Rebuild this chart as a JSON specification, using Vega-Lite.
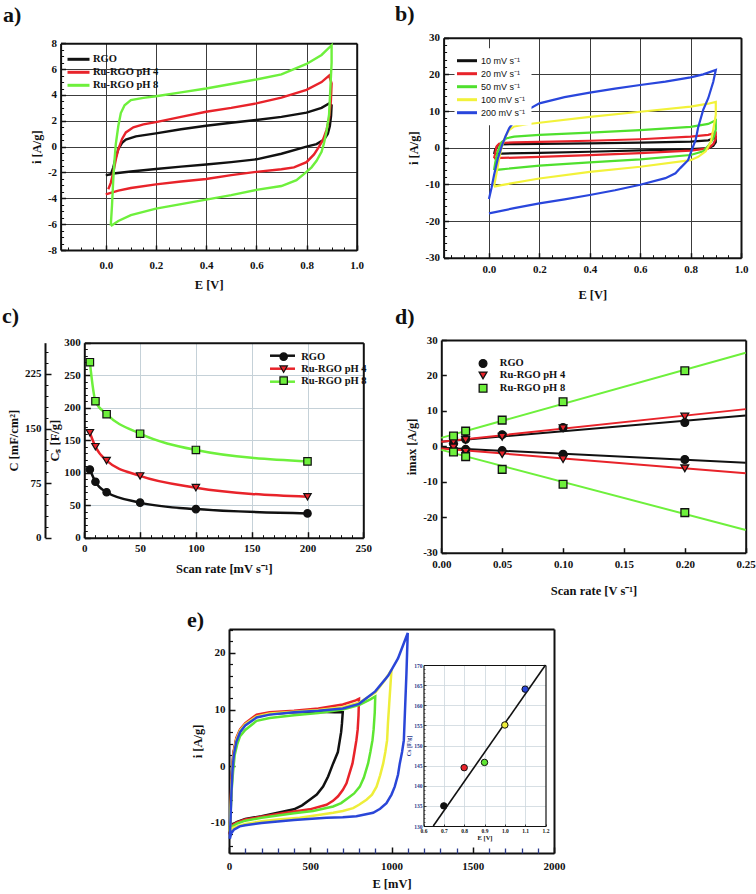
{
"$schema":"https://vega.github.io/schema/vega-lite/v6.json",
"width":756,"height":894,"autosize":{"type":"none"},"padding":0,"background":"white",
"config":{
 "view":{"stroke":null},
 "axis":{"labelFont":"Liberation Serif","labelFontWeight":"bold","labelFontSize":11,"labelColor":"#111","titleFont":"Liberation Serif","titleFontWeight":"bold","titleFontSize":12.5,"titleColor":"#111","domainColor":"#111","domainWidth":2,"tickColor":"#111","tickWidth":1.5,"labelFlush":false,"labelOverlap":false,"grid":false,"zindex":0},
 "legend":{"labelFont":"Liberation Serif","labelFontWeight":"bold","labelFontSize":10.5,"labelColor":"#111","orient":"none","padding":0}
},
"datasets":{
 "a":[
  {"s":"RGO","k":0,"E":0,"i":-2.2},{"s":"RGO","k":1,"E":0.02,"i":-2.15},{"s":"RGO","k":2,"E":0.03,"i":-1.6},{"s":"RGO","k":3,"E":0.04,"i":-0.8},{"s":"RGO","k":4,"E":0.05,"i":-0.2},{"s":"RGO","k":5,"E":0.065,"i":0.3},{"s":"RGO","k":6,"E":0.08,"i":0.55},{"s":"RGO","k":7,"E":0.12,"i":0.8},{"s":"RGO","k":8,"E":0.2,"i":1.03},{"s":"RGO","k":9,"E":0.3,"i":1.35},{"s":"RGO","k":10,"E":0.4,"i":1.62},{"s":"RGO","k":11,"E":0.5,"i":1.85},{"s":"RGO","k":12,"E":0.6,"i":2.06},{"s":"RGO","k":13,"E":0.7,"i":2.3},{"s":"RGO","k":14,"E":0.8,"i":2.63},{"s":"RGO","k":15,"E":0.86,"i":3.0},{"s":"RGO","k":16,"E":0.89,"i":3.35},{"s":"RGO","k":17,"E":0.9,"i":3.2},{"s":"RGO","k":18,"E":0.898,"i":2.4},{"s":"RGO","k":19,"E":0.893,"i":1.6},{"s":"RGO","k":20,"E":0.885,"i":1.0},{"s":"RGO","k":21,"E":0.87,"i":0.55},{"s":"RGO","k":22,"E":0.84,"i":0.2},{"s":"RGO","k":23,"E":0.8,"i":0.0},{"s":"RGO","k":24,"E":0.7,"i":-0.55},{"s":"RGO","k":25,"E":0.6,"i":-0.98},{"s":"RGO","k":26,"E":0.5,"i":-1.2},{"s":"RGO","k":27,"E":0.4,"i":-1.38},{"s":"RGO","k":28,"E":0.3,"i":-1.55},{"s":"RGO","k":29,"E":0.2,"i":-1.73},{"s":"RGO","k":30,"E":0.1,"i":-1.92},{"s":"RGO","k":31,"E":0.03,"i":-2.08},{"s":"RGO","k":32,"E":0.005,"i":-2.2},
  {"s":"Ru-RGO pH 4","k":0,"E":0.01,"i":-3.3},{"s":"Ru-RGO pH 4","k":1,"E":0.02,"i":-2.8},{"s":"Ru-RGO pH 4","k":2,"E":0.03,"i":-2.0},{"s":"Ru-RGO pH 4","k":3,"E":0.04,"i":-1.0},{"s":"Ru-RGO pH 4","k":4,"E":0.05,"i":-0.2},{"s":"Ru-RGO pH 4","k":5,"E":0.065,"i":0.6},{"s":"Ru-RGO pH 4","k":6,"E":0.08,"i":1.1},{"s":"Ru-RGO pH 4","k":7,"E":0.11,"i":1.5},{"s":"Ru-RGO pH 4","k":8,"E":0.15,"i":1.72},{"s":"Ru-RGO pH 4","k":9,"E":0.2,"i":1.9},{"s":"Ru-RGO pH 4","k":10,"E":0.3,"i":2.3},{"s":"Ru-RGO pH 4","k":11,"E":0.4,"i":2.7},{"s":"Ru-RGO pH 4","k":12,"E":0.5,"i":3.0},{"s":"Ru-RGO pH 4","k":13,"E":0.6,"i":3.35},{"s":"Ru-RGO pH 4","k":14,"E":0.7,"i":3.8},{"s":"Ru-RGO pH 4","k":15,"E":0.8,"i":4.4},{"s":"Ru-RGO pH 4","k":16,"E":0.86,"i":5.0},{"s":"Ru-RGO pH 4","k":17,"E":0.89,"i":5.5},{"s":"Ru-RGO pH 4","k":18,"E":0.9,"i":4.9},{"s":"Ru-RGO pH 4","k":19,"E":0.897,"i":3.5},{"s":"Ru-RGO pH 4","k":20,"E":0.89,"i":2.2},{"s":"Ru-RGO pH 4","k":21,"E":0.88,"i":1.3},{"s":"Ru-RGO pH 4","k":22,"E":0.865,"i":0.5},{"s":"Ru-RGO pH 4","k":23,"E":0.85,"i":0.0},{"s":"Ru-RGO pH 4","k":24,"E":0.83,"i":-0.6},{"s":"Ru-RGO pH 4","k":25,"E":0.8,"i":-1.2},{"s":"Ru-RGO pH 4","k":26,"E":0.75,"i":-1.6},{"s":"Ru-RGO pH 4","k":27,"E":0.7,"i":-1.75},{"s":"Ru-RGO pH 4","k":28,"E":0.6,"i":-1.95},{"s":"Ru-RGO pH 4","k":29,"E":0.5,"i":-2.2},{"s":"Ru-RGO pH 4","k":30,"E":0.4,"i":-2.5},{"s":"Ru-RGO pH 4","k":31,"E":0.3,"i":-2.7},{"s":"Ru-RGO pH 4","k":32,"E":0.2,"i":-2.92},{"s":"Ru-RGO pH 4","k":33,"E":0.1,"i":-3.2},{"s":"Ru-RGO pH 4","k":34,"E":0.05,"i":-3.4},{"s":"Ru-RGO pH 4","k":35,"E":0.0,"i":-3.7},
  {"s":"Ru-RGO pH 8","k":0,"E":0.02,"i":-6.1},{"s":"Ru-RGO pH 8","k":1,"E":0.025,"i":-4.5},{"s":"Ru-RGO pH 8","k":2,"E":0.03,"i":-2.5},{"s":"Ru-RGO pH 8","k":3,"E":0.035,"i":-1.0},{"s":"Ru-RGO pH 8","k":4,"E":0.04,"i":0.2},{"s":"Ru-RGO pH 8","k":5,"E":0.05,"i":1.6},{"s":"Ru-RGO pH 8","k":6,"E":0.06,"i":2.6},{"s":"Ru-RGO pH 8","k":7,"E":0.075,"i":3.2},{"s":"Ru-RGO pH 8","k":8,"E":0.1,"i":3.6},{"s":"Ru-RGO pH 8","k":9,"E":0.15,"i":3.78},{"s":"Ru-RGO pH 8","k":10,"E":0.2,"i":3.9},{"s":"Ru-RGO pH 8","k":11,"E":0.3,"i":4.2},{"s":"Ru-RGO pH 8","k":12,"E":0.4,"i":4.5},{"s":"Ru-RGO pH 8","k":13,"E":0.5,"i":4.85},{"s":"Ru-RGO pH 8","k":14,"E":0.6,"i":5.2},{"s":"Ru-RGO pH 8","k":15,"E":0.7,"i":5.6},{"s":"Ru-RGO pH 8","k":16,"E":0.8,"i":6.4},{"s":"Ru-RGO pH 8","k":17,"E":0.86,"i":7.1},{"s":"Ru-RGO pH 8","k":18,"E":0.9,"i":7.85},{"s":"Ru-RGO pH 8","k":19,"E":0.9,"i":6.5},{"s":"Ru-RGO pH 8","k":20,"E":0.895,"i":4.5},{"s":"Ru-RGO pH 8","k":21,"E":0.89,"i":2.5},{"s":"Ru-RGO pH 8","k":22,"E":0.88,"i":1.2},{"s":"Ru-RGO pH 8","k":23,"E":0.87,"i":0.3},{"s":"Ru-RGO pH 8","k":24,"E":0.86,"i":-0.4},{"s":"Ru-RGO pH 8","k":25,"E":0.84,"i":-1.1},{"s":"Ru-RGO pH 8","k":26,"E":0.82,"i":-1.6},{"s":"Ru-RGO pH 8","k":27,"E":0.8,"i":-1.95},{"s":"Ru-RGO pH 8","k":28,"E":0.76,"i":-2.6},{"s":"Ru-RGO pH 8","k":29,"E":0.7,"i":-3.05},{"s":"Ru-RGO pH 8","k":30,"E":0.6,"i":-3.35},{"s":"Ru-RGO pH 8","k":31,"E":0.5,"i":-3.75},{"s":"Ru-RGO pH 8","k":32,"E":0.4,"i":-4.1},{"s":"Ru-RGO pH 8","k":33,"E":0.3,"i":-4.45},{"s":"Ru-RGO pH 8","k":34,"E":0.2,"i":-4.8},{"s":"Ru-RGO pH 8","k":35,"E":0.1,"i":-5.3},{"s":"Ru-RGO pH 8","k":36,"E":0.05,"i":-5.75},{"s":"Ru-RGO pH 8","k":37,"E":0.02,"i":-6.15}
 ],
 "b":[
  {"s":"10 mV s⁻¹","k":0,"E":0.02,"i":-1.7},{"s":"10 mV s⁻¹","k":1,"E":0.025,"i":-0.5},{"s":"10 mV s⁻¹","k":2,"E":0.035,"i":0.6},{"s":"10 mV s⁻¹","k":3,"E":0.05,"i":0.9},{"s":"10 mV s⁻¹","k":4,"E":0.1,"i":1.0},{"s":"10 mV s⁻¹","k":5,"E":0.2,"i":1.05},{"s":"10 mV s⁻¹","k":6,"E":0.4,"i":1.2},{"s":"10 mV s⁻¹","k":7,"E":0.6,"i":1.4},{"s":"10 mV s⁻¹","k":8,"E":0.8,"i":1.65},{"s":"10 mV s⁻¹","k":9,"E":0.87,"i":2.0},{"s":"10 mV s⁻¹","k":10,"E":0.9,"i":2.8},{"s":"10 mV s⁻¹","k":11,"E":0.9,"i":1.5},{"s":"10 mV s⁻¹","k":12,"E":0.89,"i":0.5},{"s":"10 mV s⁻¹","k":13,"E":0.87,"i":-0.1},{"s":"10 mV s⁻¹","k":14,"E":0.8,"i":-0.4},{"s":"10 mV s⁻¹","k":15,"E":0.6,"i":-0.75},{"s":"10 mV s⁻¹","k":16,"E":0.4,"i":-1.1},{"s":"10 mV s⁻¹","k":17,"E":0.2,"i":-1.4},{"s":"10 mV s⁻¹","k":18,"E":0.05,"i":-1.6},{"s":"10 mV s⁻¹","k":19,"E":0.02,"i":-1.7},
  {"s":"20 mV s⁻¹","k":0,"E":0.02,"i":-2.9},{"s":"20 mV s⁻¹","k":1,"E":0.025,"i":-1.5},{"s":"20 mV s⁻¹","k":2,"E":0.03,"i":0.3},{"s":"20 mV s⁻¹","k":3,"E":0.04,"i":1.1},{"s":"20 mV s⁻¹","k":4,"E":0.06,"i":1.35},{"s":"20 mV s⁻¹","k":5,"E":0.1,"i":1.45},{"s":"20 mV s⁻¹","k":6,"E":0.2,"i":1.6},{"s":"20 mV s⁻¹","k":7,"E":0.4,"i":1.9},{"s":"20 mV s⁻¹","k":8,"E":0.6,"i":2.3},{"s":"20 mV s⁻¹","k":9,"E":0.8,"i":3.0},{"s":"20 mV s⁻¹","k":10,"E":0.87,"i":3.5},{"s":"20 mV s⁻¹","k":11,"E":0.9,"i":4.1},{"s":"20 mV s⁻¹","k":12,"E":0.9,"i":2.5},{"s":"20 mV s⁻¹","k":13,"E":0.89,"i":1.0},{"s":"20 mV s⁻¹","k":14,"E":0.87,"i":-0.2},{"s":"20 mV s⁻¹","k":15,"E":0.8,"i":-0.8},{"s":"20 mV s⁻¹","k":16,"E":0.6,"i":-1.5},{"s":"20 mV s⁻¹","k":17,"E":0.4,"i":-2.0},{"s":"20 mV s⁻¹","k":18,"E":0.2,"i":-2.5},{"s":"20 mV s⁻¹","k":19,"E":0.05,"i":-2.8},{"s":"20 mV s⁻¹","k":20,"E":0.02,"i":-2.9},
  {"s":"50 mV s⁻¹","k":0,"E":0.02,"i":-6.1},{"s":"50 mV s⁻¹","k":1,"E":0.025,"i":-4.0},{"s":"50 mV s⁻¹","k":2,"E":0.035,"i":-1.0},{"s":"50 mV s⁻¹","k":3,"E":0.05,"i":1.5},{"s":"50 mV s⁻¹","k":4,"E":0.07,"i":2.6},{"s":"50 mV s⁻¹","k":5,"E":0.1,"i":3.0},{"s":"50 mV s⁻¹","k":6,"E":0.2,"i":3.5},{"s":"50 mV s⁻¹","k":7,"E":0.4,"i":4.1},{"s":"50 mV s⁻¹","k":8,"E":0.6,"i":4.8},{"s":"50 mV s⁻¹","k":9,"E":0.8,"i":5.7},{"s":"50 mV s⁻¹","k":10,"E":0.87,"i":6.5},{"s":"50 mV s⁻¹","k":11,"E":0.9,"i":7.5},{"s":"50 mV s⁻¹","k":12,"E":0.9,"i":5.0},{"s":"50 mV s⁻¹","k":13,"E":0.89,"i":2.5},{"s":"50 mV s⁻¹","k":14,"E":0.87,"i":0.5},{"s":"50 mV s⁻¹","k":15,"E":0.85,"i":-1.0},{"s":"50 mV s⁻¹","k":16,"E":0.8,"i":-2.0},{"s":"50 mV s⁻¹","k":17,"E":0.6,"i":-3.2},{"s":"50 mV s⁻¹","k":18,"E":0.4,"i":-4.0},{"s":"50 mV s⁻¹","k":19,"E":0.2,"i":-4.9},{"s":"50 mV s⁻¹","k":20,"E":0.05,"i":-5.9},{"s":"50 mV s⁻¹","k":21,"E":0.02,"i":-6.1},
  {"s":"100 mV s⁻¹","k":0,"E":0.02,"i":-10.6},{"s":"100 mV s⁻¹","k":1,"E":0.03,"i":-7},{"s":"100 mV s⁻¹","k":2,"E":0.04,"i":-3},{"s":"100 mV s⁻¹","k":3,"E":0.05,"i":0.0},{"s":"100 mV s⁻¹","k":4,"E":0.065,"i":3.0},{"s":"100 mV s⁻¹","k":5,"E":0.08,"i":4.8},{"s":"100 mV s⁻¹","k":6,"E":0.1,"i":5.8},{"s":"100 mV s⁻¹","k":7,"E":0.15,"i":6.4},{"s":"100 mV s⁻¹","k":8,"E":0.2,"i":6.8},{"s":"100 mV s⁻¹","k":9,"E":0.4,"i":8.4},{"s":"100 mV s⁻¹","k":10,"E":0.6,"i":9.8},{"s":"100 mV s⁻¹","k":11,"E":0.8,"i":11.2},{"s":"100 mV s⁻¹","k":12,"E":0.87,"i":12.0},{"s":"100 mV s⁻¹","k":13,"E":0.9,"i":12.5},{"s":"100 mV s⁻¹","k":14,"E":0.9,"i":9.0},{"s":"100 mV s⁻¹","k":15,"E":0.89,"i":5.0},{"s":"100 mV s⁻¹","k":16,"E":0.88,"i":1.5},{"s":"100 mV s⁻¹","k":17,"E":0.86,"i":-1.0},{"s":"100 mV s⁻¹","k":18,"E":0.83,"i":-2.5},{"s":"100 mV s⁻¹","k":19,"E":0.8,"i":-3.4},{"s":"100 mV s⁻¹","k":20,"E":0.6,"i":-5.2},{"s":"100 mV s⁻¹","k":21,"E":0.4,"i":-6.6},{"s":"100 mV s⁻¹","k":22,"E":0.2,"i":-8.4},{"s":"100 mV s⁻¹","k":23,"E":0.05,"i":-10.2},{"s":"100 mV s⁻¹","k":24,"E":0.02,"i":-10.6},
  {"s":"200 mV s⁻¹","k":0,"E":0.0,"i":-14},{"s":"200 mV s⁻¹","k":1,"E":0.01,"i":-11},{"s":"200 mV s⁻¹","k":2,"E":0.02,"i":-7.5},{"s":"200 mV s⁻¹","k":3,"E":0.035,"i":-3},{"s":"200 mV s⁻¹","k":4,"E":0.05,"i":0.3},{"s":"200 mV s⁻¹","k":5,"E":0.065,"i":3},{"s":"200 mV s⁻¹","k":6,"E":0.08,"i":5.3},{"s":"200 mV s⁻¹","k":7,"E":0.1,"i":7.2},{"s":"200 mV s⁻¹","k":8,"E":0.12,"i":8.5},{"s":"200 mV s⁻¹","k":9,"E":0.15,"i":10.2},{"s":"200 mV s⁻¹","k":10,"E":0.2,"i":12.1},{"s":"200 mV s⁻¹","k":11,"E":0.3,"i":13.8},{"s":"200 mV s⁻¹","k":12,"E":0.4,"i":15.0},{"s":"200 mV s⁻¹","k":13,"E":0.5,"i":16.1},{"s":"200 mV s⁻¹","k":14,"E":0.6,"i":17.1},{"s":"200 mV s⁻¹","k":15,"E":0.7,"i":18.0},{"s":"200 mV s⁻¹","k":16,"E":0.8,"i":19.2},{"s":"200 mV s⁻¹","k":17,"E":0.85,"i":20.0},{"s":"200 mV s⁻¹","k":18,"E":0.9,"i":21.2},{"s":"200 mV s⁻¹","k":19,"E":0.89,"i":18},{"s":"200 mV s⁻¹","k":20,"E":0.87,"i":13.5},{"s":"200 mV s⁻¹","k":21,"E":0.85,"i":10.3},{"s":"200 mV s⁻¹","k":22,"E":0.83,"i":5.5},{"s":"200 mV s⁻¹","k":23,"E":0.82,"i":2.1},{"s":"200 mV s⁻¹","k":24,"E":0.8,"i":-1.5},{"s":"200 mV s⁻¹","k":25,"E":0.79,"i":-3.4},{"s":"200 mV s⁻¹","k":26,"E":0.76,"i":-5.5},{"s":"200 mV s⁻¹","k":27,"E":0.74,"i":-7},{"s":"200 mV s⁻¹","k":28,"E":0.7,"i":-8.3},{"s":"200 mV s⁻¹","k":29,"E":0.6,"i":-10.1},{"s":"200 mV s⁻¹","k":30,"E":0.5,"i":-11.6},{"s":"200 mV s⁻¹","k":31,"E":0.4,"i":-12.9},{"s":"200 mV s⁻¹","k":32,"E":0.3,"i":-14.1},{"s":"200 mV s⁻¹","k":33,"E":0.2,"i":-15.2},{"s":"200 mV s⁻¹","k":34,"E":0.1,"i":-16.5},{"s":"200 mV s⁻¹","k":35,"E":0.0,"i":-17.9}
 ],
 "c":[
  {"s":"RGO","r":5,"cs":105},{"s":"RGO","r":10,"cs":86},{"s":"RGO","r":20,"cs":70},{"s":"RGO","r":50,"cs":54},{"s":"RGO","r":100,"cs":44},{"s":"RGO","r":200,"cs":37.4},
  {"s":"Ru-RGO pH 4","r":5,"cs":161.5},{"s":"Ru-RGO pH 4","r":10,"cs":140},{"s":"Ru-RGO pH 4","r":20,"cs":118.5},{"s":"Ru-RGO pH 4","r":50,"cs":95},{"s":"Ru-RGO pH 4","r":100,"cs":77},{"s":"Ru-RGO pH 4","r":200,"cs":63},
  {"s":"Ru-RGO pH 8","r":5,"cs":270},{"s":"Ru-RGO pH 8","r":10,"cs":210},{"s":"Ru-RGO pH 8","r":20,"cs":190},{"s":"Ru-RGO pH 8","r":50,"cs":160},{"s":"Ru-RGO pH 8","r":100,"cs":135},{"s":"Ru-RGO pH 8","r":200,"cs":117.4}
 ],
 "dl":[
  {"s":"RGO","b":"up","x":0,"y":1.3},{"s":"RGO","b":"up","x":0.25,"y":8.7},{"s":"RGO","b":"dn","x":0,"y":-0.4},{"s":"RGO","b":"dn","x":0.25,"y":-4.6},
  {"s":"Ru-RGO pH 4","b":"up","x":0,"y":1.3},{"s":"Ru-RGO pH 4","b":"up","x":0.25,"y":10.5},{"s":"Ru-RGO pH 4","b":"dn","x":0,"y":-0.6},{"s":"Ru-RGO pH 4","b":"dn","x":0.25,"y":-7.6},
  {"s":"Ru-RGO pH 8","b":"up","x":0,"y":2.4},{"s":"Ru-RGO pH 8","b":"up","x":0.25,"y":26.4},{"s":"Ru-RGO pH 8","b":"dn","x":0,"y":-1.0},{"s":"Ru-RGO pH 8","b":"dn","x":0.25,"y":-23.6}
 ],
 "dp":[
  {"s":"RGO","x":0.01,"y":0.8},{"s":"RGO","x":0.02,"y":2.0},{"s":"RGO","x":0.05,"y":3.3},{"s":"RGO","x":0.1,"y":5.3},{"s":"RGO","x":0.2,"y":6.7},{"s":"RGO","x":0.01,"y":-0.9},{"s":"RGO","x":0.02,"y":-0.85},{"s":"RGO","x":0.05,"y":-1.2},{"s":"RGO","x":0.1,"y":-2.2},{"s":"RGO","x":0.2,"y":-3.7},
  {"s":"Ru-RGO pH 4","x":0.01,"y":1.3},{"s":"Ru-RGO pH 4","x":0.02,"y":1.8},{"s":"Ru-RGO pH 4","x":0.05,"y":2.7},{"s":"Ru-RGO pH 4","x":0.1,"y":5.1},{"s":"Ru-RGO pH 4","x":0.2,"y":8.4},{"s":"Ru-RGO pH 4","x":0.01,"y":-0.3},{"s":"Ru-RGO pH 4","x":0.02,"y":-1.5},{"s":"Ru-RGO pH 4","x":0.05,"y":-2.2},{"s":"Ru-RGO pH 4","x":0.1,"y":-3.6},{"s":"Ru-RGO pH 4","x":0.2,"y":-6.2},
  {"s":"Ru-RGO pH 8","x":0.01,"y":2.9},{"s":"Ru-RGO pH 8","x":0.02,"y":4.3},{"s":"Ru-RGO pH 8","x":0.05,"y":7.4},{"s":"Ru-RGO pH 8","x":0.1,"y":12.6},{"s":"Ru-RGO pH 8","x":0.2,"y":21.3},{"s":"Ru-RGO pH 8","x":0.01,"y":-1.6},{"s":"Ru-RGO pH 8","x":0.02,"y":-2.9},{"s":"Ru-RGO pH 8","x":0.05,"y":-6.5},{"s":"Ru-RGO pH 8","x":0.1,"y":-10.7},{"s":"Ru-RGO pH 8","x":0.2,"y":-18.7}
 ],
 "e":[
  {"w":"700","k":0,"E":5,"i":-12},{"w":"700","k":1,"E":10,"i":-7},{"w":"700","k":2,"E":15,"i":-2.5},{"w":"700","k":3,"E":27,"i":2.2},{"w":"700","k":4,"E":45,"i":4.8},{"w":"700","k":5,"E":68,"i":6.3},{"w":"700","k":6,"E":100,"i":7.4},{"w":"700","k":7,"E":170,"i":8.8},{"w":"700","k":8,"E":250,"i":9.2},{"w":"700","k":9,"E":400,"i":9.5},{"w":"700","k":10,"E":550,"i":9.6},{"w":"700","k":11,"E":650,"i":9.5},{"w":"700","k":12,"E":700,"i":9.5},{"w":"700","k":13,"E":695,"i":7.5},{"w":"700","k":14,"E":690,"i":6},{"w":"700","k":15,"E":682,"i":4.6},{"w":"700","k":16,"E":670,"i":2.5},{"w":"700","k":17,"E":641,"i":0.5},{"w":"700","k":18,"E":610,"i":-1.8},{"w":"700","k":19,"E":579,"i":-3.6},{"w":"700","k":20,"E":540,"i":-5},{"w":"700","k":21,"E":497,"i":-5.9},{"w":"700","k":22,"E":450,"i":-6.9},{"w":"700","k":23,"E":400,"i":-7.6},{"w":"700","k":24,"E":300,"i":-8.2},{"w":"700","k":25,"E":200,"i":-8.8},{"w":"700","k":26,"E":100,"i":-9.3},{"w":"700","k":27,"E":50,"i":-9.8},{"w":"700","k":28,"E":20,"i":-10.3},{"w":"700","k":29,"E":10,"i":-11.2},{"w":"700","k":30,"E":5,"i":-12},
  {"w":"800","k":0,"E":5,"i":-12},{"w":"800","k":1,"E":10,"i":-7},{"w":"800","k":2,"E":15,"i":-2.5},{"w":"800","k":3,"E":27,"i":2.4},{"w":"800","k":4,"E":45,"i":5},{"w":"800","k":5,"E":68,"i":6.5},{"w":"800","k":6,"E":100,"i":7.6},{"w":"800","k":7,"E":170,"i":9.1},{"w":"800","k":8,"E":250,"i":9.5},{"w":"800","k":9,"E":400,"i":9.8},{"w":"800","k":10,"E":550,"i":10.2},{"w":"800","k":11,"E":700,"i":10.9},{"w":"800","k":12,"E":780,"i":11.6},{"w":"800","k":13,"E":800,"i":11.9},{"w":"800","k":14,"E":797,"i":9},{"w":"800","k":15,"E":792,"i":6.5},{"w":"800","k":16,"E":784,"i":4.6},{"w":"800","k":17,"E":772,"i":2.5},{"w":"800","k":18,"E":760,"i":0.5},{"w":"800","k":19,"E":723,"i":-3},{"w":"800","k":20,"E":700,"i":-4.2},{"w":"800","k":21,"E":671,"i":-5.3},{"w":"800","k":22,"E":640,"i":-6.1},{"w":"800","k":23,"E":600,"i":-6.8},{"w":"800","k":24,"E":497,"i":-7.6},{"w":"800","k":25,"E":400,"i":-8},{"w":"800","k":26,"E":300,"i":-8.4},{"w":"800","k":27,"E":200,"i":-8.9},{"w":"800","k":28,"E":100,"i":-9.4},{"w":"800","k":29,"E":50,"i":-9.9},{"w":"800","k":30,"E":20,"i":-10.4},{"w":"800","k":31,"E":10,"i":-11},{"w":"800","k":32,"E":5,"i":-12},
  {"w":"900","k":0,"E":5,"i":-11.5},{"w":"900","k":1,"E":10,"i":-8},{"w":"900","k":2,"E":17,"i":-4},{"w":"900","k":3,"E":25,"i":-1},{"w":"900","k":4,"E":35,"i":2},{"w":"900","k":5,"E":50,"i":3.8},{"w":"900","k":6,"E":68,"i":5.3},{"w":"900","k":7,"E":100,"i":6.4},{"w":"900","k":8,"E":170,"i":8.0},{"w":"900","k":9,"E":250,"i":8.5},{"w":"900","k":10,"E":400,"i":9.0},{"w":"900","k":11,"E":550,"i":9.4},{"w":"900","k":12,"E":700,"i":10.0},{"w":"900","k":13,"E":800,"i":10.8},{"w":"900","k":14,"E":870,"i":11.8},{"w":"900","k":15,"E":900,"i":12.3},{"w":"900","k":16,"E":897,"i":9.5},{"w":"900","k":17,"E":890,"i":6.5},{"w":"900","k":18,"E":883,"i":4.6},{"w":"900","k":19,"E":870,"i":2.5},{"w":"900","k":20,"E":856,"i":0.5},{"w":"900","k":21,"E":830,"i":-2},{"w":"900","k":22,"E":805,"i":-3.6},{"w":"900","k":23,"E":770,"i":-4.8},{"w":"900","k":24,"E":733,"i":-5.6},{"w":"900","k":25,"E":690,"i":-6.5},{"w":"900","k":26,"E":641,"i":-7.1},{"w":"900","k":27,"E":517,"i":-7.9},{"w":"900","k":28,"E":400,"i":-8.3},{"w":"900","k":29,"E":300,"i":-8.7},{"w":"900","k":30,"E":200,"i":-9.1},{"w":"900","k":31,"E":100,"i":-9.6},{"w":"900","k":32,"E":50,"i":-10.1},{"w":"900","k":33,"E":20,"i":-10.6},{"w":"900","k":34,"E":10,"i":-11},{"w":"900","k":35,"E":5,"i":-11.5},
  {"w":"1000","k":0,"E":5,"i":-11.5},{"w":"1000","k":1,"E":10,"i":-8},{"w":"1000","k":2,"E":15,"i":-3.5},{"w":"1000","k":3,"E":22,"i":0},{"w":"1000","k":4,"E":30,"i":2.4},{"w":"1000","k":5,"E":45,"i":4.7},{"w":"1000","k":6,"E":68,"i":6.3},{"w":"1000","k":7,"E":100,"i":7.4},{"w":"1000","k":8,"E":170,"i":8.8},{"w":"1000","k":9,"E":250,"i":9.3},{"w":"1000","k":10,"E":400,"i":9.6},{"w":"1000","k":11,"E":550,"i":9.9},{"w":"1000","k":12,"E":700,"i":10.4},{"w":"1000","k":13,"E":800,"i":11.2},{"w":"1000","k":14,"E":900,"i":13},{"w":"1000","k":15,"E":960,"i":15.2},{"w":"1000","k":16,"E":1000,"i":17},{"w":"1000","k":17,"E":994,"i":14.5},{"w":"1000","k":18,"E":986,"i":11},{"w":"1000","k":19,"E":978,"i":7.5},{"w":"1000","k":20,"E":973,"i":4.6},{"w":"1000","k":21,"E":962,"i":2.5},{"w":"1000","k":22,"E":949,"i":0.5},{"w":"1000","k":23,"E":930,"i":-1.6},{"w":"1000","k":24,"E":908,"i":-3.6},{"w":"1000","k":25,"E":880,"i":-5},{"w":"1000","k":26,"E":846,"i":-5.9},{"w":"1000","k":27,"E":800,"i":-6.8},{"w":"1000","k":28,"E":764,"i":-7.4},{"w":"1000","k":29,"E":700,"i":-7.9},{"w":"1000","k":30,"E":641,"i":-8.2},{"w":"1000","k":31,"E":550,"i":-8.6},{"w":"1000","k":32,"E":435,"i":-9.1},{"w":"1000","k":33,"E":300,"i":-9.4},{"w":"1000","k":34,"E":200,"i":-9.7},{"w":"1000","k":35,"E":100,"i":-10.2},{"w":"1000","k":36,"E":50,"i":-10.6},{"w":"1000","k":37,"E":20,"i":-10.9},{"w":"1000","k":38,"E":10,"i":-11.2},{"w":"1000","k":39,"E":5,"i":-11.5},
  {"w":"1100","k":0,"E":5,"i":-12.8},{"w":"1100","k":1,"E":10,"i":-9},{"w":"1100","k":2,"E":15,"i":-4.5},{"w":"1100","k":3,"E":22,"i":-0.5},{"w":"1100","k":4,"E":30,"i":2},{"w":"1100","k":5,"E":45,"i":4.3},{"w":"1100","k":6,"E":68,"i":6.0},{"w":"1100","k":7,"E":100,"i":7.2},{"w":"1100","k":8,"E":170,"i":8.6},{"w":"1100","k":9,"E":250,"i":9.1},{"w":"1100","k":10,"E":400,"i":9.5},{"w":"1100","k":11,"E":550,"i":9.8},{"w":"1100","k":12,"E":700,"i":10.2},{"w":"1100","k":13,"E":800,"i":11.0},{"w":"1100","k":14,"E":900,"i":13.2},{"w":"1100","k":15,"E":980,"i":16},{"w":"1100","k":16,"E":1040,"i":19},{"w":"1100","k":17,"E":1100,"i":23.5},{"w":"1100","k":18,"E":1096,"i":20},{"w":"1100","k":19,"E":1092,"i":16.4},{"w":"1100","k":20,"E":1086,"i":12},{"w":"1100","k":21,"E":1076,"i":4.6},{"w":"1100","k":22,"E":1065,"i":2.5},{"w":"1100","k":23,"E":1051,"i":0.5},{"w":"1100","k":24,"E":1040,"i":-1.5},{"w":"1100","k":25,"E":1020,"i":-3.6},{"w":"1100","k":26,"E":1000,"i":-5},{"w":"1100","k":27,"E":969,"i":-6.5},{"w":"1100","k":28,"E":930,"i":-7.5},{"w":"1100","k":29,"E":887,"i":-8.2},{"w":"1100","k":30,"E":784,"i":-8.8},{"w":"1100","k":31,"E":700,"i":-9},{"w":"1100","k":32,"E":600,"i":-9.1},{"w":"1100","k":33,"E":400,"i":-9.5},{"w":"1100","k":34,"E":200,"i":-10},{"w":"1100","k":35,"E":100,"i":-10.4},{"w":"1100","k":36,"E":66,"i":-10.6},{"w":"1100","k":37,"E":30,"i":-11.2},{"w":"1100","k":38,"E":14,"i":-11.8},{"w":"1100","k":39,"E":5,"i":-12.8}
 ],
 "il":[{"E":0.648,"cs":130},{"E":1.2,"cs":170}],
 "ip":[{"w":"700","E":0.7,"cs":135},{"w":"800","E":0.8,"cs":144.5},{"w":"900","E":0.9,"cs":145.8},{"w":"1000","E":1.0,"cs":155.1},{"w":"1100","E":1.1,"cs":164.0}]
},
"resolve":{"scale":{"x":"independent","y":"independent","color":"independent","shape":"independent"},"axis":{"x":"independent","y":"independent"},"legend":{"color":"independent","shape":"independent"}},
"layer":[
 {"data":{"name":"a"},"mark":{"type":"line","strokeWidth":2.4},
  "encoding":{
   "x":{"field":"E","type":"quantitative","scale":{"domain":[-0.18,1],"range":[60.6,356.7],"nice":false,"zero":false},"axis":{"orient":"bottom","offset":-644,"values":[0,0.2,0.4,0.6,0.8,1],"format":".1f","tickSize":-5,"labelPadding":14,"title":"E [V]","titlePadding":8}},
   "y":{"field":"i","type":"quantitative","scale":{"domain":[-8,8],"range":[250,43.3],"nice":false,"zero":false},"axis":{"orient":"left","offset":-60.6,"values":[-8,-6,-4,-2,0,2,4,6,8],"format":"d","labelExpr":"replace(datum.label, '−', '-')","tickSize":-5,"labelPadding":9,"title":"i [A/g]","titlePadding":4,"grid":true,"gridColor":"#3c3c3c","gridWidth":1}},
   "color":{"field":"s","type":"nominal","scale":{"domain":["RGO","Ru-RGO pH 4","Ru-RGO pH 8"],"range":["#111111","#e8232a","#6ef03c"]},"legend":{"orient":"none","legendX":71.5,"legendY":52.3,"title":null,"symbolType":"M-2,0H2","symbolSize":121,"symbolStrokeWidth":3,"labelOffset":7.5,"rowPadding":-2.5}},
   "order":{"field":"k","type":"quantitative"}}},
 {"data":{"values":[{"t":"a)"}]},"mark":{"type":"text","font":"Liberation Serif","fontSize":22,"fontWeight":"bold","align":"left","baseline":"middle","color":"#111"},
  "encoding":{
   "x":{"datum":-0.41,"type":"quantitative","scale":{"domain":[-0.18,1],"range":[60.6,356.7],"nice":false,"zero":false},"axis":{"orient":"top","offset":-43.3,"values":[0,0.2,0.4,0.6,0.8,1],"labels":false,"ticks":false,"domain":true,"grid":true,"gridColor":"#3c3c3c","gridWidth":1,"title":null}},
   "y":{"datum":10.2,"type":"quantitative","scale":{"domain":[-8,8],"range":[250,43.3],"nice":false,"zero":false},"axis":{"orient":"right","offset":-399.3,"labels":false,"ticks":false,"domain":true,"title":null}},
   "text":{"field":"t"}}},
 {"data":{"values":[{}]},"mark":{"type":"point","opacity":0},
  "encoding":{
   "x":{"datum":0.5,"type":"quantitative","scale":{"domain":[-0.18,1],"range":[60.6,356.7],"nice":false,"zero":false},"axis":{"orient":"bottom","offset":-644,"values":[-0.15,-0.1,-0.05,0.05,0.1,0.15,0.25,0.3,0.35,0.45,0.5,0.55,0.65,0.7,0.75,0.85,0.9,0.95],"labels":false,"domain":false,"tickSize":-3,"tickWidth":1,"title":null}},
   "y":{"datum":0,"type":"quantitative","scale":{"domain":[-8,8],"range":[250,43.3],"nice":false,"zero":false},"axis":{"orient":"left","offset":-60.6,"values":[-7.5,-7,-6.5,-5.5,-5,-4.5,-3.5,-3,-2.5,-1.5,-1,-0.5,0.5,1,1.5,2.5,3,3.5,4.5,5,5.5,6.5,7,7.5],"labels":false,"domain":false,"tickSize":-3,"tickWidth":1,"title":null}}}},

 {"data":{"name":"b"},"mark":{"type":"line","strokeWidth":2.2},
  "encoding":{
   "x":{"field":"E","type":"quantitative","scale":{"domain":[-0.18,1],"range":[443.6,741],"nice":false,"zero":false},"axis":{"orient":"bottom","offset":-636.3,"values":[0,0.2,0.4,0.6,0.8,1],"format":".1f","tickSize":-5,"labelPadding":11,"title":"E [V]","titlePadding":14}},
   "y":{"field":"i","type":"quantitative","scale":{"domain":[-30,30],"range":[257.7,37.7],"nice":false,"zero":false},"axis":{"orient":"left","offset":-443.6,"values":[-30,-20,-10,0,10,20,30],"format":"d","labelExpr":"replace(datum.label, '−', '-')","tickSize":-5,"labelPadding":9,"title":"i [A/g]","titlePadding":4,"grid":true,"gridColor":"#3c3c3c","gridWidth":1}},
   "color":{"field":"s","type":"nominal","scale":{"domain":["10 mV s⁻¹","20 mV s⁻¹","50 mV s⁻¹","100 mV s⁻¹","200 mV s⁻¹"],"range":["#111111","#e8232a","#4fe02e","#f2f23a","#2946dc"]},"legend":{"orient":"none","legendX":454.5,"legendY":48.2,"title":null,"padding":6,"fillColor":"white","symbolType":"M-2,0H2","symbolSize":100,"symbolStrokeWidth":3,"labelOffset":7.5,"rowPadding":-1.25,"labelFont":"Liberation Sans","labelFontWeight":"normal","labelFontSize":9}},
   "order":{"field":"k","type":"quantitative"}}},
 {"data":{"values":[{"t":"b)"}]},"mark":{"type":"text","font":"Liberation Serif","fontSize":22,"fontWeight":"bold","align":"left","baseline":"middle","color":"#111"},
  "encoding":{
   "x":{"datum":-0.373,"type":"quantitative","scale":{"domain":[-0.18,1],"range":[443.6,741],"nice":false,"zero":false},"axis":{"orient":"top","offset":-37.7,"values":[0,0.2,0.4,0.6,0.8,1],"labels":false,"ticks":false,"domain":true,"grid":true,"gridColor":"#3c3c3c","gridWidth":1,"title":null}},
   "y":{"datum":36.5,"type":"quantitative","scale":{"domain":[-30,30],"range":[257.7,37.7],"nice":false,"zero":false},"axis":{"orient":"right","offset":-15,"labels":false,"ticks":false,"domain":true,"title":null}},
   "text":{"field":"t"}}},
 {"data":{"values":[{}]},"mark":{"type":"point","opacity":0},
  "encoding":{
   "x":{"datum":0.5,"type":"quantitative","scale":{"domain":[-0.18,1],"range":[443.6,741],"nice":false,"zero":false},"axis":{"orient":"bottom","offset":-636.3,"values":[-0.15,-0.1,-0.05,0.05,0.1,0.15,0.25,0.3,0.35,0.45,0.5,0.55,0.65,0.7,0.75,0.85,0.9,0.95],"labels":false,"domain":false,"tickSize":-3,"tickWidth":1,"title":null}},
   "y":{"datum":0,"type":"quantitative","scale":{"domain":[-30,30],"range":[257.7,37.7],"nice":false,"zero":false},"axis":{"orient":"left","offset":-443.6,"values":[-28,-26,-24,-22,-18,-16,-14,-12,-8,-6,-4,-2,2,4,6,8,12,14,16,18,22,24,26,28],"labels":false,"domain":false,"tickSize":-3,"tickWidth":1,"title":null}}}},

 {"data":{"name":"c"},"mark":{"type":"line","strokeWidth":2.5,"interpolate":"monotone"},
  "encoding":{
   "x":{"field":"r","type":"quantitative","scale":{"domain":[0,250],"range":[84.3,363.3],"nice":false,"zero":false},"axis":{"orient":"bottom","offset":-356.3,"values":[0,50,100,150,200,250],"format":"d","tickSize":-6,"labelPadding":11,"title":"Scan rate [mV s⁻¹]","titlePadding":9}},
   "y":{"field":"cs","type":"quantitative","scale":{"domain":[0,300],"range":[537.7,342.7],"nice":false,"zero":false},"axis":{"orient":"left","offset":-84.3,"values":[0,50,100,150,200,250,300],"format":"d","tickSize":-6,"labelPadding":10,"title":"Cₛ [F/g]","titlePadding":2,"grid":true,"gridColor":"#c5d1d8","gridWidth":1}},
   "color":{"field":"s","type":"nominal","scale":{"domain":["RGO","Ru-RGO pH 4","Ru-RGO pH 8"],"range":["#111111","#e8232a","#6ef03c"]},"legend":{"orient":"none","legendX":275,"legendY":348.2,"title":null,"symbolType":"M-2,0H2","symbolSize":156,"symbolStrokeWidth":2.5,"labelExpr":"''","rowPadding":-1.5}}}},
 {"data":{"name":"c"},"mark":{"type":"point","filled":true,"stroke":"#111","strokeWidth":1.2,"size":55,"opacity":1},
  "encoding":{
   "x":{"field":"r","type":"quantitative","scale":{"domain":[0,250],"range":[84.3,363.3],"nice":false,"zero":false},"axis":null},
   "y":{"field":"cs","type":"quantitative","scale":{"domain":[0,300],"range":[537.7,342.7],"nice":false,"zero":false},"axis":null},
   "color":{"field":"s","type":"nominal","scale":{"domain":["RGO","Ru-RGO pH 4","Ru-RGO pH 8"],"range":["#111111","#e8232a","#6ef03c"]},"legend":{"orient":"none","legendX":278.4,"legendY":351.4,"title":null,"symbolSize":55,"symbolStrokeColor":"#111","symbolStrokeWidth":1.2,"labelOffset":12.3,"rowPadding":-0.5}},
   "shape":{"field":"s","type":"nominal","scale":{"domain":["RGO","Ru-RGO pH 4","Ru-RGO pH 8"],"range":["circle","triangle-down","square"]},"legend":{"orient":"none","legendX":278.4,"legendY":351.4,"title":null,"symbolSize":55,"symbolStrokeColor":"#111","symbolStrokeWidth":1.2,"labelOffset":12.3,"rowPadding":-0.5}}}},
 {"data":{"values":[{"t":"c)"}]},"mark":{"type":"text","font":"Liberation Serif","fontSize":22,"fontWeight":"bold","align":"left","baseline":"middle","color":"#111"},
  "encoding":{
   "x":{"datum":-73.7,"type":"quantitative","scale":{"domain":[0,250],"range":[84.3,363.3],"nice":false,"zero":false},"axis":{"orient":"top","offset":-342.7,"values":[50,100,150,200],"labels":false,"ticks":false,"domain":true,"grid":true,"gridColor":"#c5d1d8","gridWidth":1,"title":null}},
   "y":{"datum":341,"type":"quantitative","scale":{"domain":[0,300],"range":[537.7,342.7],"nice":false,"zero":false},"axis":{"orient":"right","offset":-392.7,"labels":false,"ticks":false,"domain":true,"title":null}},
   "text":{"field":"t"}}},
 {"data":{"values":[{}]},"mark":{"type":"point","opacity":0},
  "encoding":{
   "x":{"datum":100,"type":"quantitative","scale":{"domain":[0,250],"range":[84.3,363.3],"nice":false,"zero":false},"axis":{"orient":"bottom","offset":-356.3,"values":[10,20,30,40,60,70,80,90,110,120,130,140,160,170,180,190,210,220,230,240],"labels":false,"domain":false,"tickSize":-3,"tickWidth":1,"title":null}},
   "y":{"datum":100,"type":"quantitative","scale":{"domain":[0,300],"range":[537.7,342.7],"nice":false,"zero":false},"axis":{"orient":"left","offset":-84.3,"values":[10,20,30,40,60,70,80,90,110,120,130,140,160,170,180,190,210,220,230,240,260,270,280,290],"labels":false,"domain":false,"tickSize":-3,"tickWidth":1,"title":null}}}},
 {"data":{"values":[{}]},"mark":{"type":"point","opacity":0},
  "encoding":{
   "y":{"datum":100,"type":"quantitative","scale":{"domain":[0,268],"range":[537.7,342.7],"nice":false,"zero":false},"axis":{"orient":"left","offset":-45,"values":[0,75,150,225],"format":"d","tickSize":-6,"labelPadding":10,"title":"C [mF/cm²]","titlePadding":4}}}},
 {"data":{"values":[{}]},"mark":{"type":"point","opacity":0},
  "encoding":{
   "y":{"datum":100,"type":"quantitative","scale":{"domain":[0,268],"range":[537.7,342.7],"nice":false,"zero":false},"axis":{"orient":"left","offset":-45,"values":[15,30,45,60,90,105,120,135,165,180,195,210,240,255],"labels":false,"domain":false,"tickSize":-3,"tickWidth":1,"title":null}}}},

 {"data":{"name":"dl"},"mark":{"type":"line","strokeWidth":2},
  "encoding":{
   "x":{"field":"x","type":"quantitative","scale":{"domain":[0,0.25],"range":[441.3,745.7],"nice":false,"zero":false},"axis":{"orient":"bottom","offset":-341.3,"values":[0,0.05,0.1,0.15,0.2,0.25],"format":".2f","tickSize":-5,"labelPadding":11,"title":"Scan rate [V s⁻¹]","titlePadding":15}},
   "y":{"field":"y","type":"quantitative","scale":{"domain":[-30,30],"range":[552.7,340],"nice":false,"zero":false},"axis":{"orient":"left","offset":-441.3,"values":[-30,-20,-10,0,10,20,30],"format":"d","labelExpr":"replace(datum.label, '−', '-')","tickSize":-5,"labelPadding":9,"title":"imax [A/g]","titlePadding":4}},
   "color":{"field":"s","type":"nominal","scale":{"domain":["RGO","Ru-RGO pH 4","Ru-RGO pH 8"],"range":["#111111","#e8232a","#6ef03c"]},"legend":null},
   "detail":{"field":"b"}}},
 {"data":{"name":"dp"},"mark":{"type":"point","filled":true,"stroke":"#111","strokeWidth":1.3,"size":60,"opacity":1},
  "encoding":{
   "x":{"field":"x","type":"quantitative","scale":{"domain":[0,0.25],"range":[441.3,745.7],"nice":false,"zero":false},"axis":null},
   "y":{"field":"y","type":"quantitative","scale":{"domain":[-30,30],"range":[552.7,340],"nice":false,"zero":false},"axis":null},
   "color":{"field":"s","type":"nominal","scale":{"domain":["RGO","Ru-RGO pH 4","Ru-RGO pH 8"],"range":["#111111","#e8232a","#6ef03c"]},"legend":{"orient":"none","legendX":477.8,"legendY":358.2,"title":null,"symbolSize":60,"symbolStrokeColor":"#111","symbolStrokeWidth":1.3,"labelOffset":11.5,"rowPadding":-1.2}},
   "shape":{"field":"s","type":"nominal","scale":{"domain":["RGO","Ru-RGO pH 4","Ru-RGO pH 8"],"range":["circle","triangle-down","square"]},"legend":{"orient":"none","legendX":477.8,"legendY":358.2,"title":null,"symbolSize":60,"symbolStrokeColor":"#111","symbolStrokeWidth":1.3,"labelOffset":11.5,"rowPadding":-1.2}}}},
 {"data":{"values":[{"t":"d)"}]},"mark":{"type":"text","font":"Liberation Serif","fontSize":22,"fontWeight":"bold","align":"left","baseline":"middle","color":"#111"},
  "encoding":{
   "x":{"datum":-0.038,"type":"quantitative","scale":{"domain":[0,0.25],"range":[441.3,745.7],"nice":false,"zero":false},"axis":{"orient":"top","offset":-340,"labels":false,"ticks":false,"domain":true,"title":null}},
   "y":{"datum":36.5,"type":"quantitative","scale":{"domain":[-30,30],"range":[552.7,340],"nice":false,"zero":false},"axis":{"orient":"right","offset":-10.3,"labels":false,"ticks":false,"domain":true,"title":null}},
   "text":{"field":"t"}}},

 {"data":{"name":"e"},"mark":{"type":"line","strokeWidth":2.5},
  "encoding":{
   "x":{"field":"E","type":"quantitative","scale":{"domain":[0,2000],"range":[229,554],"nice":false,"zero":false},"axis":{"orient":"bottom","offset":-41,"values":[0,500,1000,1500,2000],"format":"d","tickSize":-6,"labelPadding":13,"title":"E [mV]","titlePadding":6}},
   "y":{"field":"i","type":"quantitative","scale":{"domain":[-15.3,24.2],"range":[853,629],"nice":false,"zero":false},"axis":{"orient":"left","offset":-229,"values":[-10,0,10,20],"format":"d","labelExpr":"replace(datum.label, '−', '-')","tickSize":-6,"labelPadding":10,"title":"i [A/g]","titlePadding":6}},
   "color":{"field":"w","type":"nominal","scale":{"domain":["700","800","900","1000","1100"],"range":["#111111","#e8232a","#5ee632","#eeee3a","#2a46d8"]},"legend":null},
   "order":{"field":"k","type":"quantitative"}}},
 {"data":{"values":[{"t":"e)"}]},"mark":{"type":"text","font":"Liberation Serif","fontSize":22,"fontWeight":"bold","align":"left","baseline":"middle","color":"#111"},
  "encoding":{
   "x":{"datum":-258,"type":"quantitative","scale":{"domain":[0,2000],"range":[229,554],"nice":false,"zero":false},"axis":{"orient":"top","offset":-629,"labels":false,"ticks":false,"domain":true,"title":null}},
   "y":{"datum":25.8,"type":"quantitative","scale":{"domain":[-15.3,24.2],"range":[853,629],"nice":false,"zero":false},"axis":{"orient":"right","offset":-202,"labels":false,"ticks":false,"domain":true,"title":null}},
   "text":{"field":"t"}}},
 {"data":{"values":[{}]},"mark":{"type":"point","opacity":0},
  "encoding":{
   "x":{"datum":500,"type":"quantitative","scale":{"domain":[0,2000],"range":[229,554],"nice":false,"zero":false},"axis":{"orient":"bottom","offset":-41,"values":[100,200,300,400,600,700,800,900,1100,1200,1300,1400,1600,1700,1800,1900],"labels":false,"domain":false,"tickSize":-5,"tickWidth":1.3,"tickColor":"#2a3a8c","title":null}},
   "y":{"datum":0,"type":"quantitative","scale":{"domain":[-15.3,24.2],"range":[853,629],"nice":false,"zero":false},"axis":{"orient":"left","offset":-229,"values":[-14,-12,-8,-6,-4,-2,2,4,6,8,12,14,16,18,22,24],"labels":false,"domain":false,"tickSize":-3.5,"tickWidth":1.2,"title":null}}}},

 {"data":{"name":"il"},"mark":{"type":"line","strokeWidth":1.6,"color":"#111"},
  "encoding":{
   "x":{"field":"E","type":"quantitative","scale":{"domain":[0.6,1.2],"range":[423.5,545.5],"nice":false,"zero":false},"axis":{"orient":"bottom","offset":-68,"values":[0.6,0.7,0.8,0.9,1.0,1.1,1.2],"format":".1f","tickSize":-2,"tickWidth":0.8,"labelPadding":4,"labelFontSize":5.5,"domainWidth":1.2,"title":"E [V]","titleFontSize":6.5,"titlePadding":1}},
   "y":{"field":"cs","type":"quantitative","scale":{"domain":[130,170],"range":[826,665],"nice":false,"zero":false},"axis":{"orient":"left","offset":-423.5,"values":[130,135,140,145,150,155,160,165,170],"format":"d","tickSize":-2.5,"tickWidth":0.8,"labelPadding":4,"labelFontSize":5.5,"labelColor":"#2b3a8a","domainWidth":1.2,"title":"Cs [F/g]","titleFontSize":6,"titleColor":"#2b3a8a","titlePadding":2,"grid":true,"gridColor":"#cdd7dd","gridWidth":0.8}}}},
 {"data":{"name":"ip"},"mark":{"type":"point","filled":true,"stroke":"#111","strokeWidth":1,"size":42,"opacity":1},
  "encoding":{
   "x":{"field":"E","type":"quantitative","scale":{"domain":[0.6,1.2],"range":[423.5,545.5],"nice":false,"zero":false},"axis":null},
   "y":{"field":"cs","type":"quantitative","scale":{"domain":[130,170],"range":[826,665],"nice":false,"zero":false},"axis":null},
   "color":{"field":"w","type":"nominal","scale":{"domain":["700","800","900","1000","1100"],"range":["#111111","#e8232a","#5ee632","#eeee3a","#2a46d8"]},"legend":null}}},
 {"data":{"values":[{}]},"mark":{"type":"point","opacity":0},
  "encoding":{
   "x":{"datum":0.9,"type":"quantitative","scale":{"domain":[0.6,1.2],"range":[423.5,545.5],"nice":false,"zero":false},"axis":{"orient":"top","offset":-665,"values":[0.7,0.8,0.9,1.0,1.1],"labels":false,"ticks":false,"domain":true,"domainWidth":1.2,"grid":true,"gridColor":"#cdd7dd","gridWidth":0.8,"title":null}},
   "y":{"datum":150,"type":"quantitative","scale":{"domain":[130,170],"range":[826,665],"nice":false,"zero":false},"axis":{"orient":"right","offset":-210.5,"labels":false,"ticks":false,"domain":true,"domainWidth":1.2,"title":null}}}},
 {"data":{"values":[{}]},"mark":{"type":"point","opacity":0},
  "encoding":{
   "y":{"datum":150,"type":"quantitative","scale":{"domain":[130,170],"range":[826,665],"nice":false,"zero":false},"axis":{"orient":"left","offset":-423.5,"values":[131,132,133,134,136,137,138,139,141,142,143,144,146,147,148,149,151,152,153,154,156,157,158,159,161,162,163,164,166,167,168,169],"labels":false,"domain":false,"tickSize":-1.5,"tickWidth":0.6,"title":null}}}}
]
}
